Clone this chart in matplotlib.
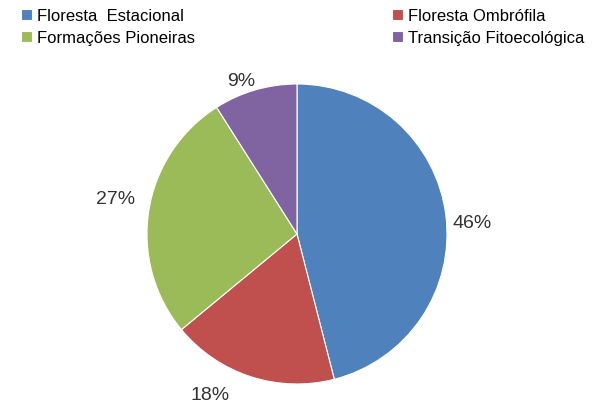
import matplotlib.pyplot as plt
import numpy as np

plt.rcParams['font.family'] = ['Liberation Sans', 'DejaVu Sans']

categories = ['Floresta  Estacional', 'Floresta Ombrófila', 'Formações Pioneiras', 'Transição Fitoecológica']
values = [46, 18, 27, 9]
colors = ['#4F81BD', '#C0504D', '#9BBB59', '#8064A2']
# where Excel put each percentage: distance from centre and angle shift from the slice middle
label_dist = [1.17, 1.22, 1.235, 1.09]
label_shift = [-3.3, -10.4, -1.9, 3.8]

fig = plt.figure(figsize=(5.94, 4.06), dpi=100)
ax = fig.add_axes([147 / 594, 21 / 406, 300 / 594, 300 / 406])

wedges, _ = ax.pie(values, colors=colors, startangle=90, counterclock=False,
                   wedgeprops=dict(edgecolor='white', linewidth=0.8))
ax.set_xlim(-1, 1)
ax.set_ylim(-1, 1)
ax.set_aspect('equal')

total = sum(values)
for w, v, d, s in zip(wedges, values, label_dist, label_shift):
    mid = np.deg2rad((w.theta1 + w.theta2) / 2 + s)
    ax.text(d * np.cos(mid), d * np.sin(mid), f'{round(100 * v / total)}%',
            ha='center', va='center', fontsize=14, color='#333333', clip_on=False)

# legend: two columns, drawn as two legends so each column sits where Excel put it
leg_kw = dict(loc='upper left', frameon=False, fontsize=12, handlelength=0.66,
              handleheight=0.66, handletextpad=0.3, labelspacing=0.45,
              borderpad=0, borderaxespad=0)
fig.legend([wedges[0], wedges[2]], [categories[0], categories[2]],
           bbox_to_anchor=(21 / 594, 1 - 9 / 406), **leg_kw)
fig.legend([wedges[1], wedges[3]], [categories[1], categories[3]],
           bbox_to_anchor=(392 / 594, 1 - 9 / 406), **leg_kw)

fig.savefig('out.png', dpi=100)
